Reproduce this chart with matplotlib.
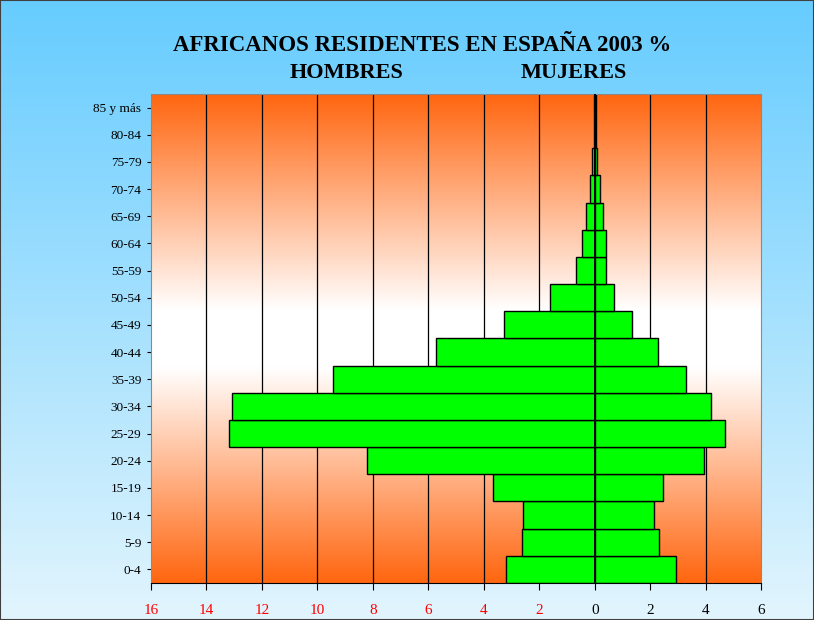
import matplotlib
matplotlib.use("Agg")
import matplotlib.pyplot as plt
import numpy as np
from matplotlib.colors import LinearSegmentedColormap
from matplotlib.patches import Rectangle

# Age groups, bottom to top
age_groups = ["0-4", "5-9", "10-14", "15-19", "20-24", "25-29", "30-34", "35-39",
              "40-44", "45-49", "50-54", "55-59", "60-64", "65-69", "70-74",
              "75-79", "80-84", "85 y más"]
# % of population
hombres = [3.21, 2.61, 2.57, 3.67, 8.22, 13.2, 13.07, 9.43, 5.74, 3.26,
           1.6, 0.67, 0.45, 0.3, 0.17, 0.1, 0.04, 0.04]
mujeres = [2.92, 2.32, 2.13, 2.45, 3.93, 4.71, 4.21, 3.28, 2.28, 1.35,
           0.7, 0.42, 0.39, 0.29, 0.2, 0.1, 0.04, 0.04]
x_ticks = [-16, -14, -12, -10, -8, -6, -4, -2, 0, 2, 4, 6]

plt.rcParams["font.family"] = ["Liberation Serif", "DejaVu Serif"]

fig = plt.figure(figsize=(8.14, 6.2), dpi=100)

# figure background: sky-blue gradient
bg = fig.add_axes([0, 0, 1, 1], zorder=-10)
bg_cmap = LinearSegmentedColormap.from_list("sky", ["#66ccff", "#e2f5fd"])
bg.imshow(np.linspace(0, 1, 256).reshape(-1, 1), aspect="auto", cmap=bg_cmap,
          extent=[0, 1, 0, 1], origin="upper")
bg.set_axis_off()
fig.patches.append(Rectangle((0, 0), 1, 1, transform=fig.transFigure,
                             fill=False, edgecolor="#404040", linewidth=1.5))

ax = fig.add_axes([0.1855, 0.0597, 0.7495, 0.7887])
n = len(age_groups)
y = np.arange(n)

# plot area gradient: orange at the edges, white in the middle
grad_cmap = LinearSegmentedColormap.from_list(
    "orng", [(0, "#ff6610"), (0.44, "#ffffff"), (0.56, "#ffffff"), (1, "#ff6610")])
ax.imshow(np.linspace(0, 1, 256).reshape(-1, 1), aspect="auto", cmap=grad_cmap,
          extent=[-16, 6, -0.5, n - 0.5], origin="upper", zorder=0)

for xv in x_ticks[1:-1]:
    ax.axvline(xv, color="black", linewidth=0.9, zorder=1)

ax.barh(y, [-v for v in hombres], height=1.0, color="#00ff00",
        edgecolor="black", linewidth=1.0, zorder=2)
ax.barh(y, mujeres, height=1.0, color="#00ff00",
        edgecolor="black", linewidth=1.0, zorder=2)
ax.axvline(0, color="black", linewidth=1.4, zorder=3)

ax.set_xlim(-16, 6)
ax.set_ylim(-0.5, n - 0.5)
ax.set_yticks(y)
ax.set_yticklabels(age_groups, fontsize=9.5)
ax.set_xticks(x_ticks)
ax.set_xticklabels([str(abs(v)) for v in x_ticks], fontsize=11)
for lbl, v in zip(ax.get_xticklabels(), x_ticks):
    lbl.set_color("red" if v < 0 else "black")
ax.tick_params(axis="x", length=5, pad=10)
ax.tick_params(axis="y", length=3, pad=4)

for side in ("left", "top", "right"):
    ax.spines[side].set_color("#8a8a8a")
ax.spines["bottom"].set_color("black")

fig.text(0.518, 0.927, "AFRICANOS RESIDENTES EN ESPAÑA 2003 %", ha="center",
         va="center", fontsize=16.5, fontweight="bold")
fig.text(0.426, 0.883, "HOMBRES", ha="center", va="center", fontsize=16,
         fontweight="bold")
fig.text(0.705, 0.883, "MUJERES", ha="center", va="center", fontsize=16,
         fontweight="bold")

fig.savefig("out.png", dpi=100)
